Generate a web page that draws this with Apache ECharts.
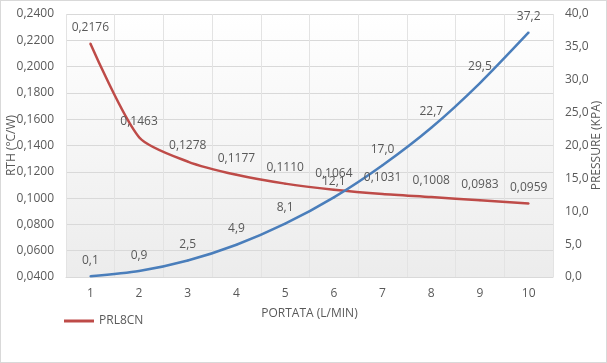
<!DOCTYPE html>
<html><head><meta charset="utf-8">
<script src="https://cdn.jsdelivr.net/npm/echarts@6/dist/echarts.min.js"></script>
<style>html,body{margin:0;padding:0;background:#fff}#c{width:607px;height:363px;box-sizing:border-box;border:1px solid #d9d9d9}</style>
</head><body><div id="c"></div>
<script>
var categories = ['1','2','3','4','5','6','7','8','9','10'];
var rth = [0.2176, 0.1463, 0.1278, 0.1177, 0.1110, 0.1064, 0.1031, 0.1008, 0.0983, 0.0959];
var pressure = [0.1, 0.9, 2.5, 4.9, 8.1, 12.1, 17.0, 22.7, 29.5, 37.2];
var chart = echarts.init(document.getElementById('c'));
var txt = '#595959';
var font = 'Open Sans, Liberation Sans, sans-serif';
function fmt(v, d){ return Number(v).toFixed(d).replace('.', ','); }
chart.setOption({
  animation: false,
  textStyle: {fontFamily: font},
  grid: {left: 65, right: 53, top: 13, bottom: 85, show: true, borderWidth: 0, containLabel: false, outerBoundsMode: 'none',
    backgroundColor: {type:'linear', x:0, y:0, x2:0, y2:1, colorStops:[{offset:0,color:'#ffffff'},{offset:1,color:'#ececec'}]}},
  legend: {show: true, left: 58, top: 309, itemWidth: 30, itemHeight: 3, icon: 'rect', itemGap: 3,
    data: ['PRL8CN'], textStyle: {color: txt, fontSize: 12, fontFamily: font}},
  xAxis: {type: 'category', data: categories, boundaryGap: true,
    name: 'PORTATA (L/MIN)', nameLocation: 'middle', nameGap: 31, nameMoveOverlap: false,
    nameTextStyle: {color: txt, fontSize: 12},
    axisLine: {lineStyle: {color: '#d9d9d9'}}, axisTick: {show: false},
    axisLabel: {color: txt, fontSize: 12, margin: 11},
    splitLine: {show: true, lineStyle: {color: '#e3e3e3'}}},
  yAxis: [
    {type: 'value', min: 0.04, max: 0.24, interval: 0.02,
     name: 'RTH (°C/W)', nameLocation: 'middle', nameGap: 48, nameMoveOverlap: false,
     nameTextStyle: {color: txt, fontSize: 12},
     axisLine: {show: false}, axisTick: {show: false},
     axisLabel: {color: txt, fontSize: 12, margin: 12, formatter: function(v){return fmt(v,4);}},
     splitLine: {lineStyle: {color: '#d9d9d9'}}},
    {type: 'value', min: 0, max: 40, interval: 5,
     name: 'PRESSURE (KPA)', nameLocation: 'middle', nameGap: 38, nameRotate: 90, nameMoveOverlap: false,
     nameTextStyle: {color: txt, fontSize: 12},
     axisLine: {show: false}, axisTick: {show: false},
     axisLabel: {color: txt, fontSize: 12, margin: 12, formatter: function(v){return fmt(v,1);}},
     splitLine: {show: false}}
  ],
  series: [
    {name: 'PRL8CN', type: 'line', yAxisIndex: 0, data: rth, smooth: 0.25, symbol: 'circle', symbolSize: 2, showSymbol: true,
     lineStyle: {color: '#be4b48', width: 2.5}, itemStyle: {color: '#be4b48'},
     label: {show: true, position: 'top', distance: 9, color: txt, fontSize: 12, formatter: function(p){return fmt(p.value,4);}}},
    {name: 'Pressure', type: 'line', yAxisIndex: 1, data: pressure, smooth: 0.25, symbol: 'circle', symbolSize: 2, showSymbol: true,
     lineStyle: {color: '#4a7ebb', width: 2.5}, itemStyle: {color: '#4a7ebb'},
     label: {show: true, position: 'top', distance: 9, color: txt, fontSize: 12, formatter: function(p){return fmt(p.value,1);}}}
  ]
});
</script></body></html>
